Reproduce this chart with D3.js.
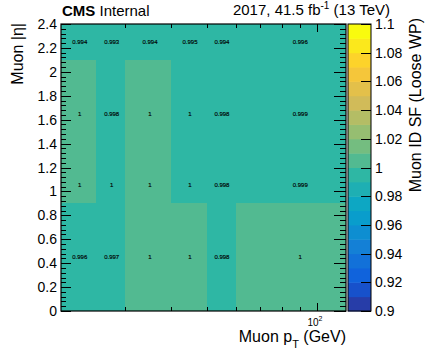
<!DOCTYPE html>
<html>
<head>
<meta charset="utf-8">
<script src="https://cdn.jsdelivr.net/npm/d3@7"></script>
<style>
body { margin: 0; background: #fff; }
text { font-family: "Liberation Sans", Arial, sans-serif; fill: #000; }
</style>
</head>
<body>
<script>
// bin edges
var ptEdges = [20, 25, 30, 40, 50, 60, 120]
var etaEdges = [0, 0.9, 1.2, 2.1, 2.4]

// scale factors, one row per |eta| bin (bottom to top)
var sfEta0 = [0.996, 0.997, 1.001, 1.001, 0.998, 1.001]
var sfEta1 = [1.001, 0.9997, 1.001, 0.9997, 0.998, 0.999]
var sfEta2 = [1.001, 0.998, 1.001, 0.9997, 0.998, 0.999]
var sfEta3 = [0.994, 0.993, 0.994, 0.995, 0.994, 0.996]
var sfRows = [sfEta0, sfEta1, sfEta2, sfEta3]

var zRange = [0.9, 1.1]
var zTicks = [0.9, 0.92, 0.94, 0.96, 0.98, 1, 1.02, 1.04, 1.06, 1.08, 1.1]
var nCont = 20

var W = 425, H = 352
var L = 61, R = 346, T = 24, B = 311

var svg = d3.select("body").append("svg").attr("width", W).attr("height", H)

var x = d3.scaleLog().domain([20, 120]).range([L, R])
var y = d3.scaleLinear().domain([0, 2.4]).range([B, T])
var zy = d3.scaleLinear().domain(zRange).range([B, T])

// ROOT kBird palette
var birdStops = [0, 0.125, 0.25, 0.375, 0.5, 0.625, 0.75, 0.875, 1]
var birdCols = [[0.2082,0.1664,0.5293],[0.0592,0.3599,0.8684],[0.0780,0.5041,0.8385],
  [0.0232,0.6419,0.7914],[0.1802,0.7178,0.6425],[0.5301,0.7492,0.4662],
  [0.8186,0.7328,0.3499],[0.9956,0.7862,0.1968],[0.9764,0.9832,0.0539]]
  .map(function(c){ return d3.rgb(c[0]*255, c[1]*255, c[2]*255) })
var bird = d3.scaleLinear().domain(birdStops).range(birdCols).interpolate(d3.interpolateRgb)

function bandColor(i) {
  var ci = Math.floor(0.01 + (i + 0.99) * 255 / nCont)
  return bird(Math.min(ci, 254) / 254)
}
function zColor(v) {
  var i = Math.floor((v - zRange[0]) / ((zRange[1] - zRange[0]) / nCont))
  i = Math.max(0, Math.min(nCont - 1, i))
  return bandColor(i)
}

// cells
var cells = []
sfRows.forEach(function(row, j) {
  row.forEach(function(v, i) {
    cells.push({x0: ptEdges[i], x1: ptEdges[i+1], y0: etaEdges[j], y1: etaEdges[j+1], v: v})
  })
})

svg.selectAll("rect.cell").data(cells).enter().append("rect")
  .attr("class", "cell")
  .attr("x", function(d){ return x(d.x0) })
  .attr("y", function(d){ return y(d.y1) })
  .attr("width", function(d){ return x(d.x1) - x(d.x0) })
  .attr("height", function(d){ return y(d.y0) - y(d.y1) })
  .attr("fill", function(d){ return zColor(d.v) })
  .attr("shape-rendering", "crispEdges")

var fmt = d3.format(".3~g")
svg.selectAll("text.val").data(cells).enter().append("text")
  .attr("class", "val")
  .attr("x", function(d){ return x((d.x0 + d.x1) / 2) })
  .attr("y", function(d){ return y((d.y0 + d.y1) / 2) + 2 })
  .attr("text-anchor", "middle")
  .attr("font-size", 6)
  .attr("stroke", "#000").attr("stroke-width", 0.15)
  .text(function(d){ return fmt(d.v) })

// axes ticks
var g = svg.append("g").attr("stroke", "#000").attr("stroke-width", 1)
var yMinor = d3.range(0, 2.4001, 0.04)
var yMajor = y.ticks(12)
yMinor.forEach(function(v) {
  var yy = Math.round(y(v)) + 0.5
  g.append("line").attr("x1", L).attr("x2", L + 5).attr("y1", yy).attr("y2", yy)
  g.append("line").attr("x1", R).attr("x2", R - 6).attr("y1", yy).attr("y2", yy)
})
yMajor.forEach(function(v) {
  var yy = Math.round(y(v)) + 0.5
  g.append("line").attr("x1", L).attr("x2", L + 10).attr("y1", yy).attr("y2", yy)
  g.append("line").attr("x1", R).attr("x2", R - 12).attr("y1", yy).attr("y2", yy)
})
var xMinor = [30, 40, 50, 60, 70, 80, 90]
xMinor.forEach(function(v) {
  var xx = Math.round(x(v)) + 0.5
  g.append("line").attr("x1", xx).attr("x2", xx).attr("y1", B).attr("y2", B - 4)
  g.append("line").attr("x1", xx).attr("x2", xx).attr("y1", T).attr("y2", T + 4)
})
;[100].forEach(function(v) {
  var xx = Math.round(x(v)) + 0.5
  g.append("line").attr("x1", xx).attr("x2", xx).attr("y1", B).attr("y2", B - 8)
  g.append("line").attr("x1", xx).attr("x2", xx).attr("y1", T).attr("y2", T + 8)
})

svg.append("rect").attr("x", L).attr("y", T).attr("width", R - L).attr("height", B - T)
  .attr("fill", "none").attr("stroke", "#000").attr("stroke-width", 1.2)

// y tick labels
svg.selectAll("text.ytick").data(yMajor).enter().append("text")
  .attr("x", L - 4).attr("y", function(d){ return y(d) + 5 })
  .attr("text-anchor", "end").attr("font-size", 14)
  .text(function(d){ return d3.format("~g")(d) })

// x tick label 10^2
var xl = svg.append("text").attr("x", x(100) - 2).attr("y", 326).attr("text-anchor", "middle").attr("font-size", 10)
xl.append("tspan").text("10")
xl.append("tspan").attr("dy", -5).attr("font-size", 7).text("2")

// axis titles
var xt = svg.append("text").attr("x", R).attr("y", 342).attr("text-anchor", "end").attr("font-size", 16)
xt.append("tspan").text("Muon p")
xt.append("tspan").attr("dy", 6).attr("font-size", 11).text("T")
xt.append("tspan").attr("dy", -6).text(" (GeV)")

svg.append("text").attr("transform", "translate(23," + (T - 1) + ") rotate(-90)")
  .attr("text-anchor", "end").attr("font-size", 16).text("Muon |η|")

// colour bar
var CL = 348, CR = 371
var bands = d3.range(nCont)
var bw = (zRange[1] - zRange[0]) / nCont
svg.selectAll("rect.band").data(bands).enter().append("rect")
  .attr("x", CL)
  .attr("y", function(i){ return zy(zRange[0] + (i + 1) * bw) })
  .attr("width", CR - CL)
  .attr("height", function(i){ return zy(zRange[0] + i * bw) - zy(zRange[0] + (i + 1) * bw) + 0.5 })
  .attr("fill", function(i){ return bandColor(i) })
svg.append("rect").attr("x", CL).attr("y", T).attr("width", CR - CL).attr("height", B - T)
  .attr("fill", "none").attr("stroke", "#000").attr("stroke-width", 1)
zTicks.forEach(function(v) {
  var yy = Math.round(zy(v)) + 0.5
  svg.append("line").attr("x1", CR).attr("x2", CR - 10).attr("y1", yy).attr("y2", yy).attr("stroke", "#000")
})
svg.selectAll("text.ztick").data(zTicks).enter().append("text")
  .attr("x", CR + 4).attr("y", function(d){ return zy(d) + 5 })
  .attr("font-size", 14)
  .text(function(d){ return d3.format("~g")(d) })

svg.append("text").attr("transform", "translate(421," + (T - 6) + ") rotate(-90)")
  .attr("text-anchor", "end").attr("font-size", 16).text("Muon ID SF (Loose WP)")

// header
var hd = svg.append("text").attr("x", L + 1).attr("y", 16).attr("font-size", 15)
hd.append("tspan").attr("font-weight", "bold").text("CMS")
hd.append("tspan").text(" Internal")

var lumi = svg.append("text").attr("x", 390).attr("y", 15).attr("text-anchor", "end").attr("font-size", 15)
lumi.append("tspan").text("2017, 41.5 fb")
lumi.append("tspan").attr("dy", -6).attr("font-size", 10).text("-1")
lumi.append("tspan").attr("dy", 6).text(" (13 TeV)")
</script>
</body>
</html>
